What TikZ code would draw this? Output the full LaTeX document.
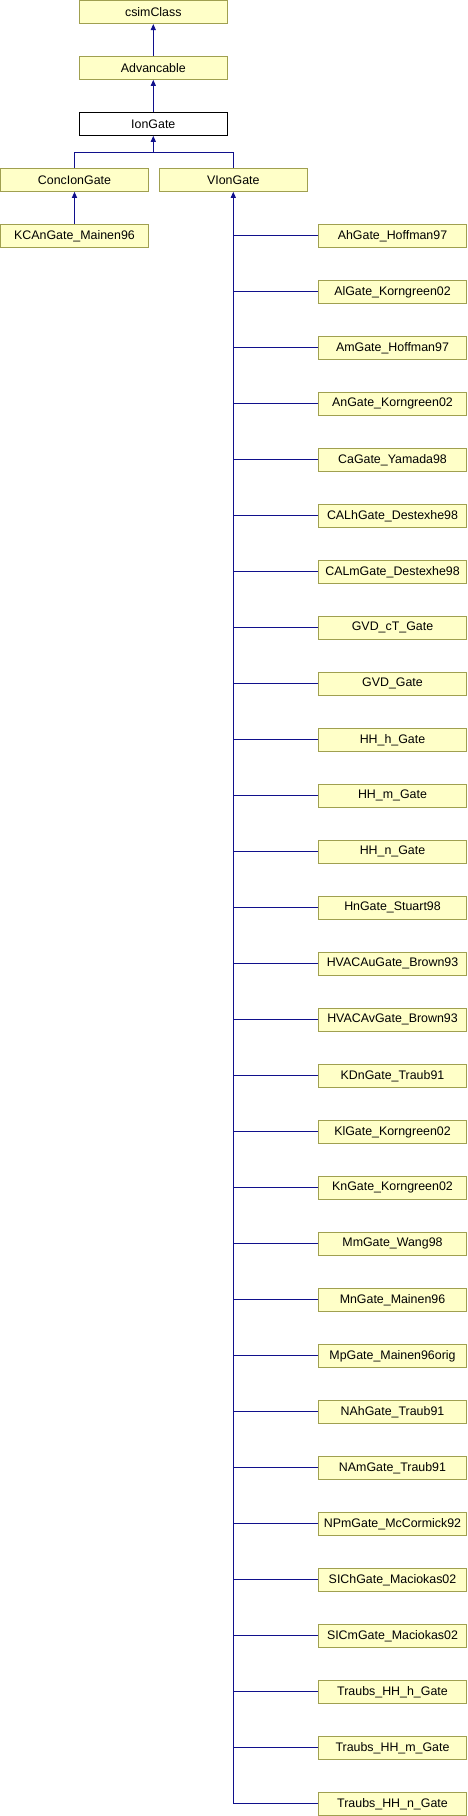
\documentclass[tikz,border=0pt]{standalone}
\usepackage{fontspec}
\setmainfont{Liberation Sans}
\usetikzlibrary{arrows.meta}
\definecolor{boxfill}{RGB}{255,255,200}
\definecolor{boxdraw}{RGB}{160,160,80}
\definecolor{edgecol}{RGB}{16,16,140}
\begin{document}
\begin{tikzpicture}[x=1pt,y=-1pt,
  cls/.style={draw=boxdraw,fill=boxfill,line width=1pt,minimum width=148pt,minimum height=23pt,
    inner sep=0pt,font=\fontsize{12.4}{14}\selectfont},
  cur/.style={cls,draw=black,fill=white},
  edge/.style={draw=edgecol,line width=1pt},
  inh/.style={edge,-{Triangle[length=6pt,width=5pt]}}]
\useasboundingbox (0,0) rectangle (467,1816);
\node[cls] (csim) at (153.3,12) {csimClass};
\node[cls] (adv) at (153.3,67.8) {Advancable};
\node[cur] (ion) at (153.3,123.8) {IonGate};
\node[cls] (conc) at (74.5,179.8) {ConcIonGate};
\node[cls] (vion) at (233.3,179.8) {VIonGate};
\node[cls] (kcan) at (74.5,235.8) {KCAnGate\_Mainen96};
\draw[inh] (adv) -- (csim);
\draw[inh] (ion) -- (adv);
\coordinate (br) at (153.3,152.3);
\draw[edge] (conc.north) |- (br) -| (vion.north);
\draw[inh] (br) -- (ion.south);
\draw[inh] (kcan) -- (conc);
\foreach \name [count=\i] in {AhGate\_Hoffman97,AlGate\_Korngreen02,AmGate\_Hoffman97,AnGate\_Korngreen02,CaGate\_Yamada98,CALhGate\_Destexhe98,CALmGate\_Destexhe98,GVD\_cT\_Gate,GVD\_Gate,HH\_h\_Gate,HH\_m\_Gate,HH\_n\_Gate,HnGate\_Stuart98,HVACAuGate\_Brown93,HVACAvGate\_Brown93,KDnGate\_Traub91,KlGate\_Korngreen02,KnGate\_Korngreen02,MmGate\_Wang98,MnGate\_Mainen96,MpGate\_Mainen96orig,NAhGate\_Traub91,NAmGate\_Traub91,NPmGate\_McCormick92,SIChGate\_Maciokas02,SICmGate\_Maciokas02,Traubs\_HH\_h\_Gate,Traubs\_HH\_m\_Gate,Traubs\_HH\_n\_Gate}{
  \node[cls] (c\i) at (392.5,{235.8+56*(\i-1)}) {\name};
  \draw[edge] (c\i.west) -- (vion.south |- c\i.west);
}
\draw[inh] (vion.south |- c29.west) -- (vion.south);
\end{tikzpicture}
\end{document}
